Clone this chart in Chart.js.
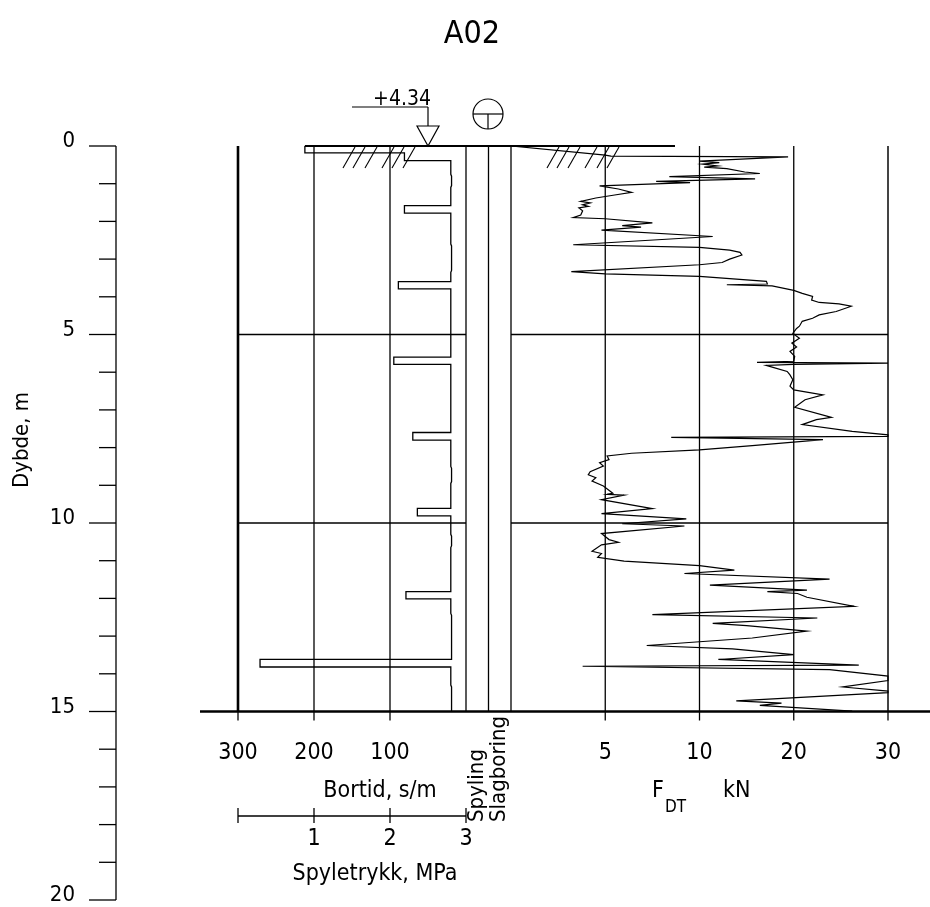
<!DOCTYPE html>
<html>
<head>
<meta charset="utf-8">
<title>A02</title>
<script src="https://cdn.jsdelivr.net/npm/chart.js@4.4.1/dist/chart.umd.min.js"></script>
<style>
  html, body { margin: 0; padding: 0; background: #fff; }
  #wrap { position: relative; width: 930px; height: 907px; }
</style>
</head>
<body>
<div id="wrap"><canvas id="log" width="930" height="907"></canvas></div>
<script>
// Bortid (s/m) against depth (m)
const bortidDepth = [0, 0, 0.18, 0.18, 0.39, 0.39, 0.75, 0.8, 1.05, 1.1, 1.58, 1.58, 1.78, 1.78,
  2.6, 2.65, 3.3, 3.35, 3.6, 3.6, 3.79, 3.79, 5.6, 5.6, 5.79, 5.79, 7.6, 7.6, 7.8, 7.8,
  8.5, 8.55, 8.9, 8.95, 9.61, 9.61, 9.81, 9.81, 10.3, 10.35, 10.6, 10.65, 11.82, 11.82, 12.01, 12.01,
  12.4, 12.45, 13.62, 13.62, 13.82, 13.82, 14.3, 14.35, 15];
const bortid = [0, 212, 212, 81, 81, 20, 20, 19, 19, 20, 20, 81, 81, 20,
  20, 19, 19, 20, 20, 89, 89, 20, 20, 95, 95, 20, 20, 70, 70, 20,
  20, 19, 19, 20, 20, 64, 64, 20, 20, 19, 19, 20, 20, 79, 79, 20,
  20, 19, 19, 271, 271, 20, 20, 19, 19];

// F_DT (kN) against depth (m)
const fdtDepth = [0, 0.24, 0.27, 0.29, 0.40, 0.44, 0.48, 0.53, 0.56, 0.60,
  0.69, 0.73, 0.81, 0.87, 0.94, 0.97, 1.06, 1.14, 1.23, 1.30,
  1.38, 1.47, 1.51, 1.56, 1.60, 1.64, 1.72, 1.83, 1.90, 1.93,
  2.04, 2.11, 2.15, 2.23, 2.40, 2.62, 2.69, 2.76, 2.82, 2.89,
  3.00, 3.09, 3.15, 3.33, 3.39, 3.46, 3.59, 3.66, 3.68, 3.71,
  3.83, 3.91, 3.99, 4.09, 4.15, 4.19, 4.25, 4.39, 4.48, 4.57,
  4.65, 4.78, 4.84, 4.97, 5.10, 5.23, 5.33, 5.45, 5.58, 5.71,
  5.74, 5.76, 5.79, 5.82, 5.87, 5.98, 6.07, 6.20, 6.37, 6.47,
  6.60, 6.73, 6.93, 7.20, 7.26, 7.39, 7.57, 7.66, 7.70, 7.73,
  7.79, 7.95, 8.06, 8.15, 8.22, 8.32, 8.40, 8.49, 8.64, 8.72,
  8.80, 8.89, 9.02, 9.21, 9.24, 9.26, 9.38, 9.62, 9.75, 9.89,
  10.02, 10.08, 10.28, 10.44, 10.51, 10.58, 10.75, 10.81, 10.91, 11.01,
  11.13, 11.25, 11.34, 11.49, 11.65, 11.78, 11.82, 11.87, 11.97, 12.21,
  12.43, 12.52, 12.66, 12.72, 12.87, 13.05, 13.25, 13.34, 13.49, 13.62,
  13.77, 13.80, 13.89, 14.06, 14.18, 14.35, 14.46, 14.50, 14.72, 14.78,
  14.84, 14.99];
const fdt = [0, 5.0, 5.3, 19.4, 10.0, 12.1, 10.3, 11.9, 10.5, 12.9,
  14.8, 16.4, 8.4, 15.9, 7.7, 9.5, 4.7, 5.7, 6.4, 5.5,
  4.5, 3.7, 4.2, 3.8, 4.1, 3.6, 3.8, 3.7, 3.3, 5.0,
  7.5, 5.9, 6.9, 4.8, 11.4, 3.3, 10.0, 13.2, 14.3, 14.5,
  13.2, 12.4, 10.0, 3.2, 5.0, 10.0, 17.1, 17.2, 12.9, 17.7,
  20.0, 20.9, 22.0, 21.9, 22.7, 24.8, 26.1, 24.5, 22.7, 22.0,
  20.9, 20.6, 20.3, 19.9, 20.6, 19.8, 20.3, 19.6, 20.1, 20.0,
  16.1, 30, 20.0, 17.1, 17.8, 19.3, 19.6, 19.9, 19.6, 20.0,
  23.1, 21.2, 20.1, 24.0, 22.4, 20.9, 26.2, 30, 30, 8.5,
  23.1, 15.6, 10.0, 6.4, 5.1, 5.2, 4.7, 4.9, 4.2, 4.1,
  4.5, 4.3, 4.9, 5.4, 5.1, 6.0, 4.8, 7.5, 4.8, 9.3,
  5.9, 9.2, 4.8, 5.2, 5.7, 4.8, 4.3, 4.8, 4.6, 6.0,
  10.0, 13.7, 9.2, 23.8, 11.1, 21.4, 17.2, 20.4, 21.4, 26.4,
  7.5, 22.5, 11.4, 15.0, 21.4, 15.6, 7.2, 13.5, 20.0, 12.0,
  26.9, 3.8, 23.8, 30, 30, 25.2, 30, 30, 13.9, 18.7,
  16.4, 26.2];

// tick labels
const depthTicks = [0, 5, 10, 15, 20];
const depthGrid = [5, 10];
const bortidTicks = [300, 200, 100];
const fdtTicks = [5, 10, 20, 30];
const fdtBreaks = [0, 5, 10, 20, 30];   // equally spaced along the force axis
const pressureTicks = [1, 2, 3];

const DEPTH_MAX = 20;
const BASE_DEPTH = 15;
const W = 930, H = 907;
const FONT = '"DejaVu Sans Condensed", "DejaVu Sans", sans-serif';

// pixel frame of the log
const FRAME = {
  top: 146, bottom: 900,
  depthAxis: 116,
  bortidLeft: 238, bortidRight: 466,
  fdtLeft: 511, fdtRight: 888
};

// force -> position along the broken axis (0..4)
function fPos(v) {
  for (let i = 0; i < fdtBreaks.length - 1; i++) {
    if (v <= fdtBreaks[i + 1]) {
      return i + (v - fdtBreaks[i]) / (fdtBreaks[i + 1] - fdtBreaks[i]);
    }
  }
  return fdtBreaks.length - 1;
}

// min/max for a linear axis spanning the full canvas width so that two anchor values land on given pixels
function fitRange(pxA, vA, pxB, vB) {
  const k = (pxB - pxA) / (vB - vA);
  const v0 = vA + (0 - pxA) / k;
  const v1 = vA + (W - pxA) / k;
  return v0 < v1 ? { min: v0, max: v1, reverse: false } : { min: v1, max: v0, reverse: true };
}

const bortidPoints = bortidDepth.map((d, i) => ({ x: bortid[i], y: d }));
const fdtPoints = fdtDepth.map((d, i) => ({ x: fPos(fdt[i]), y: d }));

const logFrame = {
  id: 'logFrame',
  beforeDatasetsDraw(chart) {
    const { ctx } = chart;
    const { x: xb, xF: xf, xP: xp, y } = chart.scales;
    const py = d => y.getPixelForValue(d);
    const pb = v => xb.getPixelForValue(v);
    const pf = v => xf.getPixelForValue(fPos(v));
    const y0 = py(0), yBase = py(BASE_DEPTH), yEnd = py(DEPTH_MAX);
    const bL = pb(300), bR = pb(0), fL = pf(0), fR = pf(30);
    const mid = (bR + fL) / 2;

    const line = (x1, y1, x2, y2, w, c) => {
      ctx.beginPath();
      ctx.lineWidth = w || 1.3;
      ctx.strokeStyle = c || '#000';
      ctx.moveTo(x1, y1);
      ctx.lineTo(x2, y2);
      ctx.stroke();
    };

    ctx.save();
    ctx.lineCap = 'butt';

    // vertical grid, bortid panel
    bortidTicks.forEach(v => line(pb(v), y0, pb(v), yBase, v === 300 ? 2.6 : 1.3));
    // borders of the spyling / slagboring columns
    [bR, mid, fL].forEach(px => line(px, y0, px, yBase, 1.3));
    // vertical grid, force panel
    fdtTicks.forEach(v => line(pf(v), y0, pf(v), yBase, v === 30 ? 2 : 1.3, v === 30 ? '#444' : '#000'));

    // depth grid
    depthGrid.forEach(d => {
      line(bL, py(d), bR, py(d), 1.3);
      line(fL, py(d), fR, py(d), 1.3);
    });
    // base line and ticks under it
    line(pb(350), yBase, W, yBase, 2.6);
    bortidTicks.forEach(v => line(pb(v), yBase, pb(v), yBase + 9, 1.3));
    fdtTicks.forEach(v => line(pf(v), yBase, pf(v), yBase + 9, 1.3));

    // ground surface
    line(pb(212), y0, pf(8.7), y0, 2);
    ctx.lineWidth = 1.1;
    [343, 353, 365, 382, 392, 403, 547, 557, 568, 585, 597, 607].forEach(hx => {
      ctx.beginPath();
      ctx.moveTo(hx, y0 + 22);
      ctx.lineTo(hx + 12, y0 + 1);
      ctx.stroke();
    });

    // level marker
    ctx.lineWidth = 1.2;
    ctx.beginPath();
    ctx.moveTo(428, y0);
    ctx.lineTo(417, 126);
    ctx.lineTo(439, 126);
    ctx.closePath();
    ctx.stroke();
    line(428, 126, 428, 107, 1.2);
    line(352, 107, 428, 107, 1.2);

    // method symbol
    ctx.beginPath();
    ctx.lineWidth = 1.2;
    ctx.arc(488, 114, 15, 0, Math.PI * 2);
    ctx.stroke();
    line(473, 114, 503, 114, 1.2);
    line(488, 114, 488, 129, 1.2);

    // depth axis
    const ax = FRAME.depthAxis;
    line(ax, y0, ax, yEnd, 1.3);
    for (let d = 0; d <= DEPTH_MAX; d++) {
      line(d % 5 === 0 ? ax - 27 : ax - 17, py(d), ax, py(d), 1.3);
    }

    // spyletrykk scale
    const yP = 816;
    line(xp.getPixelForValue(0), yP, xp.getPixelForValue(3), yP, 1.3);
    [0].concat(pressureTicks).forEach(v => line(xp.getPixelForValue(v), yP - 8, xp.getPixelForValue(v), yP + 7, 1.3));

    ctx.restore();
  },
  afterDraw(chart) {
    const { ctx } = chart;
    const { x: xb, xF: xf, xP: xp, y } = chart.scales;
    const text = (s, x, yy, size, align) => {
      ctx.font = size + 'px ' + FONT;
      ctx.textAlign = align || 'center';
      ctx.fillText(s, x, yy);
    };
    ctx.save();
    ctx.fillStyle = '#000';
    ctx.textBaseline = 'alphabetic';

    text('A02', 472, 43, 32);
    text('+4.34', 402, 105, 21);

    depthTicks.forEach(d => text(String(d), 75, y.getPixelForValue(d) + 1, 22, 'right'));
    bortidTicks.forEach(v => text(String(v), xb.getPixelForValue(v), 759, 23));
    fdtTicks.forEach(v => text(String(v), xf.getPixelForValue(fPos(v)), 759, 23));
    pressureTicks.forEach(v => text(String(v), xp.getPixelForValue(v), 845, 23));

    text('Bortid, s/m', 380, 797, 23);
    text('Spyletrykk, MPa', 375, 880, 23);

    text('F', 652, 797, 23, 'left');
    text('DT', 665, 812, 17, 'left');
    text('kN', 723, 797, 23, 'left');

    const vtext = (s, x, yy, size, align) => {
      ctx.save();
      ctx.translate(x, yy);
      ctx.rotate(-Math.PI / 2);
      text(s, 0, 0, size, align);
      ctx.restore();
    };
    vtext('Spyling', 483, 822, 22, 'left');
    vtext('Slagboring', 505, 822, 22, 'left');
    vtext('Dybde, m', 28, 440, 22, 'center');
    ctx.restore();
  }
};

new Chart(document.getElementById('log'), {
  type: 'scatter',
  data: {
    datasets: [
      {
        label: 'Bortid',
        data: bortidPoints,
        xAxisID: 'x',
        yAxisID: 'y',
        showLine: true,
        pointRadius: 0,
        borderColor: '#000',
        borderWidth: 1.3,
        tension: 0
      },
      {
        label: 'F_DT',
        data: fdtPoints,
        xAxisID: 'xF',
        yAxisID: 'y',
        showLine: true,
        pointRadius: 0,
        borderColor: '#000',
        borderWidth: 1.2,
        tension: 0
      }
    ]
  },
  options: {
    responsive: false,
    animation: false,
    devicePixelRatio: 1,
    layout: { padding: { left: 0, right: 0, top: FRAME.top, bottom: H - FRAME.bottom } },
    plugins: { legend: { display: false }, tooltip: { enabled: false } },
    scales: {
      x: Object.assign({ type: 'linear', display: false }, fitRange(FRAME.bortidRight, 0, FRAME.bortidLeft, 300)),
      xF: Object.assign({ type: 'linear', axis: 'x', display: false }, fitRange(FRAME.fdtLeft, 0, FRAME.fdtRight, 4)),
      xP: Object.assign({ type: 'linear', axis: 'x', display: false }, fitRange(FRAME.bortidLeft, 0, FRAME.bortidRight, 3)),
      y: { type: 'linear', display: false, min: 0, max: DEPTH_MAX, reverse: true }
    }
  },
  plugins: [logFrame]
});
</script>
</body>
</html>
